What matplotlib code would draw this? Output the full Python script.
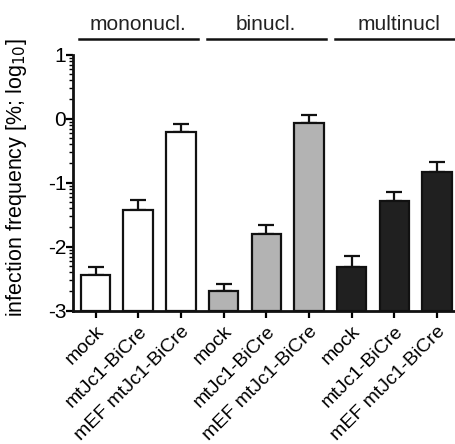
import numpy as np
import matplotlib
matplotlib.use("Agg")
import matplotlib.pyplot as plt

plt.rcParams['font.family'] = ['Liberation Sans', 'DejaVu Sans']

# data (log10 of infection frequency in %)
groups = ["mononucl.", "binucl.", "multinucl"]
conditions = ["mock", "mtJc1-BiCre", "mEF mtJc1-BiCre"]
means = [-2.44, -1.43, -0.21,
         -2.69, -1.80, -0.07,
         -2.32, -1.28, -0.84]
errs = [0.12, 0.16, 0.13,
        0.10, 0.14, 0.13,
        0.18, 0.14, 0.16]
group_colors = ["white", "#b3b3b3", "#202020"]

fig = plt.figure(figsize=(4.55, 4.44), dpi=100)
ax = fig.add_axes([73.3 / 455, (444 - 310.7) / 444, 389.4 / 455, 256 / 444])

x = np.arange(len(means))
colors = [c for c in group_colors for _ in conditions]
base = -3
ax.bar(x, np.array(means) - base, bottom=base, width=0.69, color=colors,
       edgecolor="#111111", linewidth=1.6, zorder=2)
ax.errorbar(x, means, yerr=[np.zeros(len(errs)), errs], fmt="none",
            ecolor="#111111", elinewidth=1.6, capsize=5.8, capthick=1.6, zorder=1)

ax.set_xlim(-0.52, 8.6)
ax.set_ylim(-3, 1)
ax.set_yticks([-3, -2, -1, 0, 1])
ax.set_yticklabels(["-3", "-2", "-1", "0", "1"])
minor = [d + np.log10(k) for d in range(-3, 1) for k in range(2, 10)]
ax.set_yticks(minor, minor=True)
ax.set_xticks(x)
ax.set_xticklabels(conditions * len(groups), rotation=45, ha="right",
                   rotation_mode="anchor", fontsize=14)
ax.tick_params(axis="y", labelsize=15, width=1.6, length=5, pad=0)
ax.tick_params(axis="y", which="minor", width=1.0, length=3.2)
ax.tick_params(axis="x", width=1.6, length=5, pad=4)

for s in ["top", "right"]:
    ax.spines[s].set_visible(False)
for s in ["left", "bottom"]:
    ax.spines[s].set_linewidth(2)
    ax.spines[s].set_color("#111111")

ax.set_ylabel("infection frequency [%; log$_{10}$]", fontsize=15.5)
ax.yaxis.set_label_coords(-0.114, 0.52)

# group headers above the plot
for i, g in enumerate(groups):
    c = i * len(conditions) + 1
    ax.plot([c - 1.39, c + 1.39], [1.25, 1.25], color="#111111", lw=1.8,
            clip_on=False)
    ax.text(c + (0.1 if i == 2 else 0), 1.33, g, ha="center", va="bottom",
            fontsize=15, color="#222222")

fig.savefig("out.png", dpi=100)
